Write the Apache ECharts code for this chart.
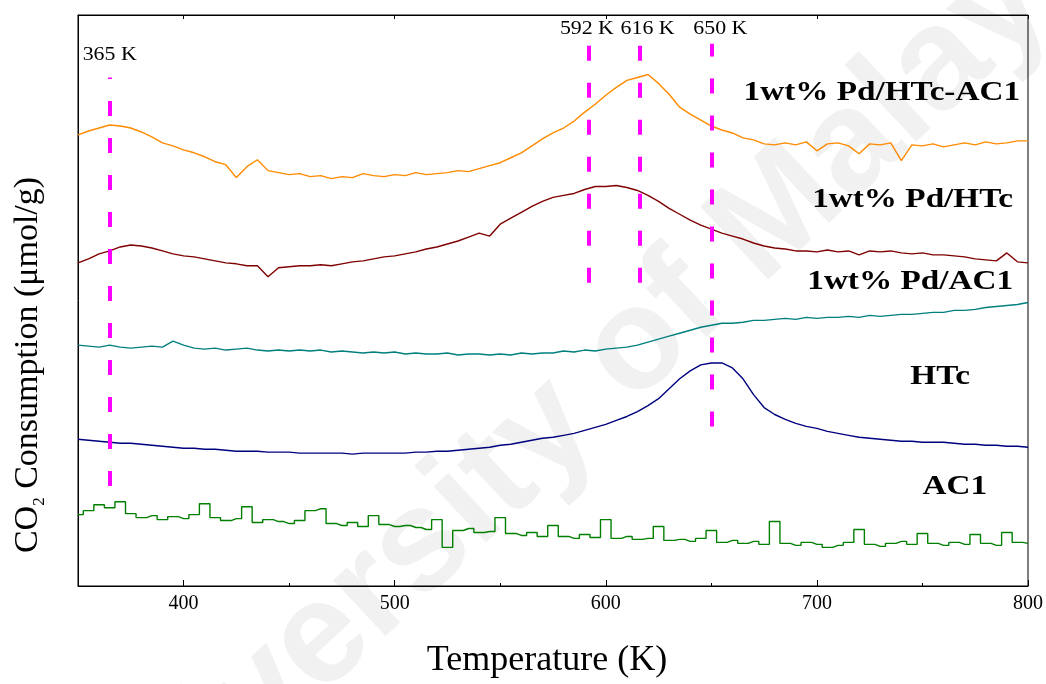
<!DOCTYPE html>
<html>
<head>
<meta charset="utf-8">
<title>CO2-TPD profiles</title>
<script src="https://cdn.jsdelivr.net/npm/echarts@6/dist/echarts.min.js"></script>
<style>
  html, body { margin: 0; padding: 0; background: #fff; }
  #chart { width: 1046px; height: 684px; }
</style>
</head>
<body>
<div id="chart"></div>
<script>
// Temperature grid (K)
const temperature = [
  350,355,360,365,370,375,380,385,390,395,400,405,410,415,420,425,430,435,440,445,
  450,455,460,465,470,475,480,485,490,495,500,505,510,515,520,525,530,535,540,545,
  550,555,560,565,570,575,580,585,590,595,600,605,610,615,620,625,630,635,640,645,
  650,655,660,665,670,675,680,685,690,695,700,705,710,715,720,725,730,735,740,745,
  750,755,760,765,770,775,780,785,790,795,800
];

// CO2 signal (a.u., stacked with offsets), one array per sample
const pdHTcAC1 = [
  455,459,462,465,464,462,458,453,447,444,440,437,433,428,425,412,423,430,419,417,
  415,416,413,414,411,413,412,416,414,413,415,414,417,415,416,417,419,418,421,424,
  427,432,437,444,451,457,462,469,478,486,495,503,510,513,516,507,496,483,476,470,
  464,460,457,452,450,446,445,447,445,448,439,446,447,444,436,446,445,447,429,445,
  444,446,443,445,447,445,448,446,447,449,449
];
const pdHTc = [
  326,330,335,338,342,344,343,341,338,335,333,332,330,328,326,325,323,323,312,321,
  322,323,323,324,323,325,327,328,330,332,333,335,337,340,342,345,348,352,356,353,
  365,371,377,383,388,392,394,396,400,403,403,404,402,399,394,388,381,375,369,364,
  360,356,353,350,346,343,341,340,338,338,337,339,337,338,334,338,337,338,336,335,
  336,334,334,333,332,330,329,328,336,327,326
];
const pdAC1 = [
  243,242,241,243,241,240,241,242,241,247,243,240,239,240,238,239,240,238,237,238,
  237,238,237,238,236,237,236,235,236,235,236,234,235,234,234,235,233,234,234,233,
  234,233,235,234,235,235,237,236,238,237,239,240,241,243,246,249,252,255,258,261,
  263,265,265,266,268,268,269,270,269,271,270,271,271,272,271,273,272,273,274,274,
  275,276,276,278,278,279,281,282,283,284,286
];
const htc = [
  148,147,146,145,144,144,143,142,141,140,139,139,138,138,137,136,136,136,135,135,
  135,134,134,134,134,134,133,134,134,134,134,134,135,135,136,136,137,138,139,140,
  142,143,145,147,149,150,152,154,157,160,163,167,171,176,182,189,199,209,217,223,
  225,225,220,209,193,180,173,168,164,161,159,156,154,152,150,149,148,147,146,146,
  145,145,145,144,143,143,142,142,141,141,140
];
const ac1 = [
  72,76,82,79,85,73,69,71,67,70,68,72,83,69,66,68,80,64,67,65,
  63,66,76,78,63,61,64,60,71,62,60,61,59,57,67,39,56,58,54,55,
  69,53,51,54,50,61,50,48,52,49,67,48,50,47,48,60,46,47,45,48,
  56,44,46,43,45,42,65,43,41,44,42,39,41,44,57,42,40,43,45,42,
  53,43,41,44,42,52,43,41,54,44,43
];

// Peak positions (K) and the signal span covered by each marker line
const peakTemps = [365, 592, 616, 650];
const peakLabels = ['365 K', '592 K', '616 K', '650 K'];
const peakFrom = [101, 306, 306, 161];
const peakTo = [513, 546, 546, 547];

// Axis tick values
const majorTicks = [400, 500, 600, 700, 800];
const minorTicks = [450, 550, 650, 750];

const sampleNames = ['1wt% Pd/HTc-AC1', '1wt% Pd/HTc', '1wt% Pd/AC1', 'HTc', 'AC1'];
const sampleData = [pdHTcAC1, pdHTc, pdAC1, htc, ac1];
const sampleColors = ['#ff8a00', '#7f0000', '#007f7f', '#00007f', '#007f00'];
const stepped = [false, false, false, false, 'middle'];

const serif = 'Liberation Serif, Times New Roman, serif';
const chart = echarts.init(document.getElementById('chart'), null, { renderer: 'canvas' });

const series = sampleNames.map((name, i) => ({
  name,
  type: 'line',
  data: temperature.map((t, k) => [t, sampleData[i][k]]),
  step: stepped[i],
  showSymbol: false,
  lineStyle: { color: sampleColors[i], width: 1.4 },
  itemStyle: { color: sampleColors[i] },
  z: 3,
  silent: true
}));

// dashed peak markers
series[0].markLine = {
  silent: true,
  symbol: 'none',
  label: { show: false },
  lineStyle: { color: '#ff00ff', width: 4, type: [15, 22], opacity: 1 },
  data: peakTemps.map((t, i) => [{ coord: [t, peakFrom[i]] }, { coord: [t, peakTo[i]] }]),
  z: 4
};

const option = {
  animation: false,
  backgroundColor: '#ffffff',
  grid: { left: 78, right: 18, top: 15, bottom: 93, show: true, borderColor: '#000', borderWidth: 1, backgroundColor: 'transparent' },
  xAxis: [
    {
      type: 'value', min: 350, max: 800, interval: 50, position: 'bottom',
      axisLine: { show: true, lineStyle: { color: '#000', width: 1 } },
      axisTick: { show: true, inside: true, length: 6, customValues: majorTicks, lineStyle: { color: '#000' } },
      axisLabel: { customValues: majorTicks, color: '#000', fontFamily: serif, fontSize: 20, margin: 8 },
      splitLine: { show: false },
      name: 'Temperature (K)', nameLocation: 'middle', nameGap: 57,
      nameTextStyle: { color: '#000', fontFamily: serif, fontSize: 36, padding: [0, 12, 0, 0] }
    },
    {
      type: 'value', min: 350, max: 800, interval: 50, position: 'bottom',
      axisLine: { show: false },
      axisTick: { show: true, inside: true, length: 3, customValues: minorTicks, lineStyle: { color: '#000' } },
      axisLabel: { show: false },
      splitLine: { show: false }
    },
    {
      type: 'value', min: 350, max: 800, interval: 50, position: 'top',
      axisLine: { show: true, lineStyle: { color: '#000', width: 1 } },
      axisTick: { show: true, inside: true, length: 4, customValues: majorTicks, lineStyle: { color: '#000' } },
      axisLabel: { show: false },
      splitLine: { show: false }
    }
  ],
  yAxis: {
    type: 'value', min: 0, max: 576,
    axisLine: { show: true, lineStyle: { color: '#000', width: 1 } },
    axisTick: { show: false },
    axisLabel: { show: false },
    splitLine: { show: false }
  },
  series
};
chart.setOption(option);

// Text annotations placed with the chart's own coordinate system
const graphics = [];

// faint background watermark
graphics.push({
  type: 'text', z: -10, silent: true,
  x: 575, y: 405, rotation: 43 * Math.PI / 180,
  style: {
    text: 'University of Malaya', x: 0, y: 0, align: 'center', verticalAlign: 'middle',
    font: 'bold 145px "Liberation Sans", Arial, sans-serif', fill: '#f1f1f1'
  }
});

// peak temperature labels
const peakLabelShift = [0, -2, 8, 9];
const peakLabelY = [55, 29, 29, 29];
peakTemps.forEach((t, i) => {
  const p = chart.convertToPixel({ xAxisIndex: 0, yAxisIndex: 0 }, [t, 0]);
  graphics.push({
    type: 'text', z: 10, silent: true,
    x: p[0] + peakLabelShift[i], y: peakLabelY[i], scaleX: 1.15,
    style: { text: peakLabels[i], x: 0, y: 0, align: 'center', verticalAlign: 'middle', font: '19px ' + serif, fill: '#000' }
  });
});

// sample names beside their traces
const nameAnchor = [[1020, 93], [1013, 200], [1013, 282], [970, 377], [987, 487]];
sampleNames.forEach((n, i) => {
  graphics.push({
    type: 'text', z: 10, silent: true,
    x: nameAnchor[i][0], y: nameAnchor[i][1], scaleX: 1.23,
    style: { text: n, x: 0, y: 0, align: 'right', verticalAlign: 'middle', font: 'bold 27px ' + serif, fill: '#000' }
  });
});

// y-axis title with subscript
graphics.push({
  type: 'text', z: 10, silent: true,
  x: 28, y: 365, rotation: Math.PI / 2,
  style: {
    text: '{a|CO}{s|2}{a| Consumption (μmol/g)}', x: 0, y: 0, align: 'center', verticalAlign: 'middle',
    rich: {
      a: { fontFamily: serif, fontSize: 34, lineHeight: 40, fill: '#000', verticalAlign: 'middle' },
      s: { fontFamily: serif, fontSize: 17, lineHeight: 18, fill: '#000', verticalAlign: 'bottom' }
    }
  }
});

chart.setOption({ graphic: { elements: graphics } });
</script>
</body>
</html>
